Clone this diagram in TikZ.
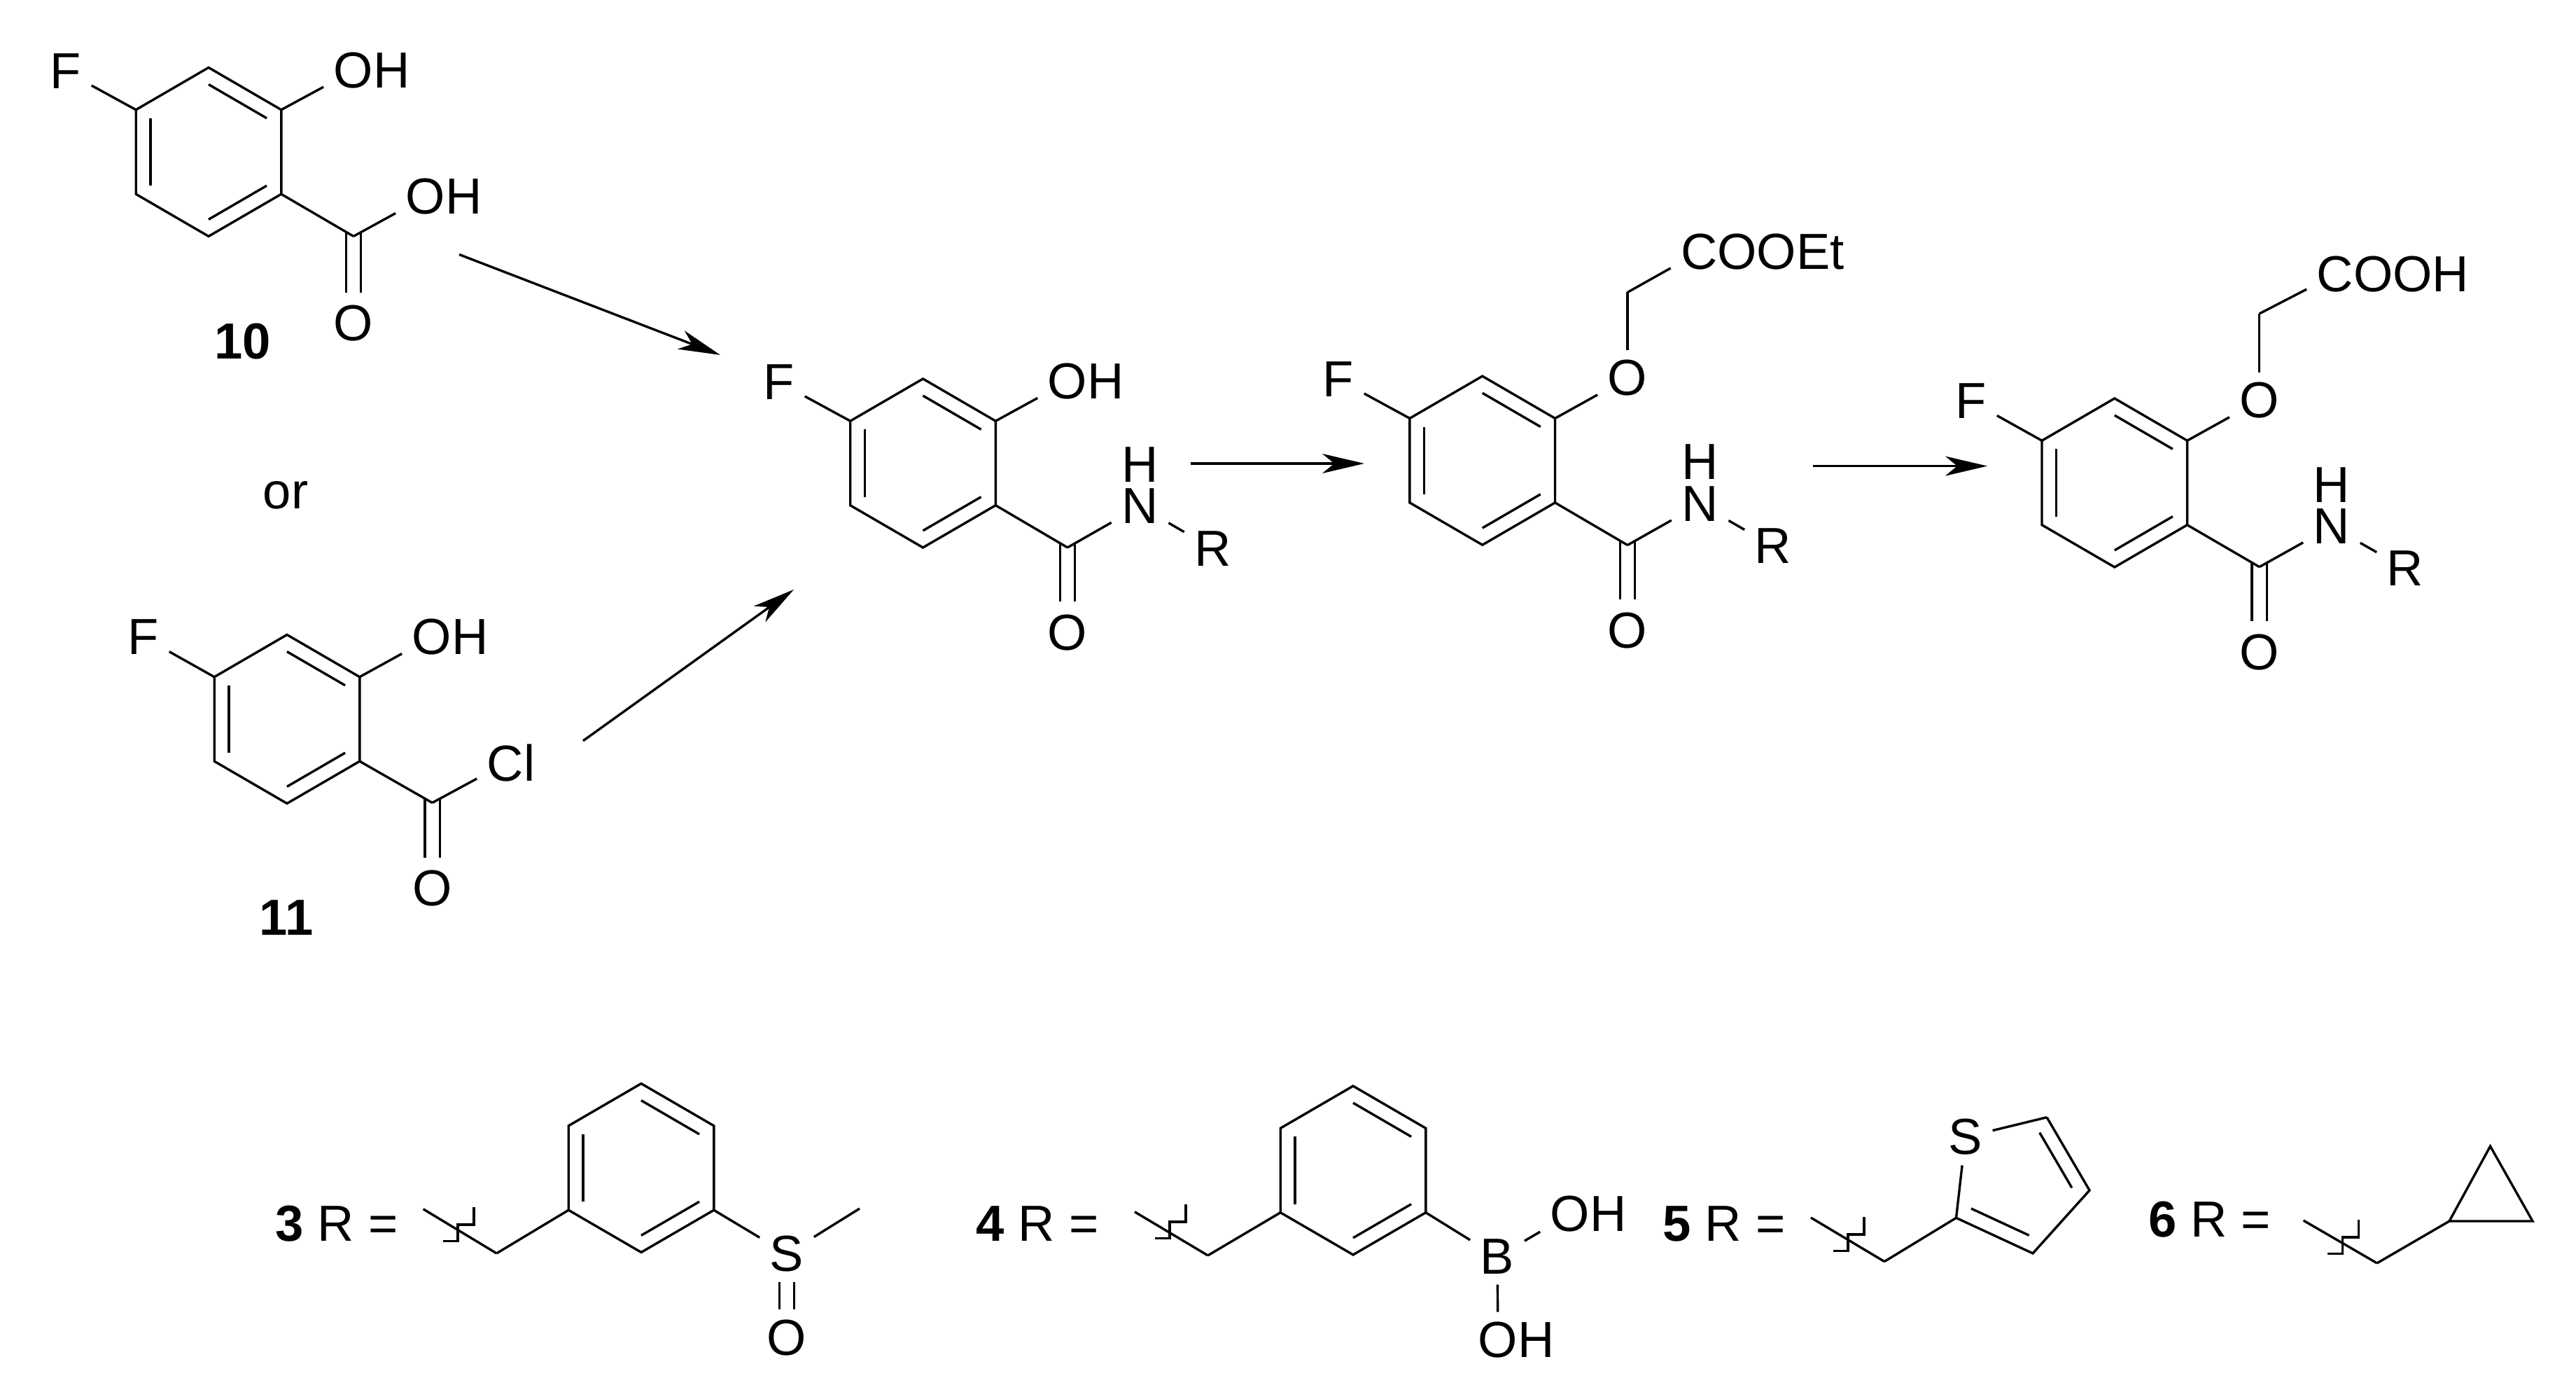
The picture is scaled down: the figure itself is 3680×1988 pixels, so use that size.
\documentclass[tikz,border=0pt]{standalone}
\usepackage{fontspec}
\setmainfont{Liberation Sans}
\usetikzlibrary{arrows.meta,calc}

\tikzset{
  atom/.style={inner sep=1.4mm},
  lab/.style={inner sep=0pt},
  bond/.style={line width=0.34mm},
  dbl/.style={bond,double,double distance=1.8mm},
  carbonyl/.style={dbl,shorten <=-0.6mm,shorten >=0.4mm},
  step mark/.style={line width=0.34mm},
  rxn/.style={->,line width=0.34mm}
}

\newcommand{\inner}[4]{\draw[bond] ($(#1)!#4!(#3)$) -- ($(#2)!#4!(#3)$);}
\newcommand{\hexring}[3]{
  \coordinate (#1m) at (#2,#3);
  \coordinate (#1a) at (#2,#3-120.5);
  \coordinate (#1b) at (#2+103.8,#3-60.2);
  \coordinate (#1c) at (#2+103.8,#3+60.2);
  \coordinate (#1d) at (#2,#3+120.5);
  \coordinate (#1e) at (#2-103.8,#3+60.2);
  \coordinate (#1f) at (#2-103.8,#3-60.2);
  \draw[bond] (#1a) -- (#1b) -- (#1c) -- (#1d) -- (#1e) -- (#1f) -- cycle;
  \inner{#1a}{#1b}{#1m}{0.2}
  \inner{#1c}{#1d}{#1m}{0.2}
  \inner{#1e}{#1f}{#1m}{0.2}
}
\newcommand{\cutmark}[2]{\draw[step mark] (#1,#2) -- ++(0,25) -- ++(-23,0) -- ++(0,23.5) -- ++(-21,0);}

\begin{document}
\begin{tikzpicture}[x=0.1mm,y=-0.1mm,>={Stealth[length=6mm,width=2.8mm,inset=1.7mm]},font=\fontsize{20.6}{24}\selectfont]
  \useasboundingbox (0,0) rectangle (3680,1988);

  \hexring{rA}{298}{217}
  \node[atom] (fA) at (94,102) {F};
  \node[atom] (ohA) at (505,101) {O\rlap{H}};
  \coordinate (cA) at (505,337.5);
  \node[atom] (ohcA) at (608,281) {O\rlap{H}};
  \node[atom] (oA) at (505,462) {O};
  \node[lab] (numA) at (347,488) {\textbf{10}};
  \path[bond] (cA) edge[carbonyl] (oA);
  \path[bond] (fA) edge (rAf)
  (rAb) edge (ohA)
  (rAc) edge (cA)
  (cA) edge (ohcA);

  \node[lab] (ortext) at (408,707) {or};

  \hexring{rB}{410}{1027}
  \node[atom] (fB) at (205,910) {F};
  \node[atom] (ohB) at (617,910) {O\rlap{H}};
  \coordinate (cB) at (617.5,1146.5);
  \node[atom] (clB) at (722,1090) {C\rlap{l}};
  \node[atom] (oB) at (617.5,1269) {O};
  \node[lab] (numB) at (409,1311) {\textbf{11}};
  \path[bond] (cB) edge[carbonyl] (oB);
  \path[bond] (fB) edge (rBf)
  (rBb) edge (ohB)
  (rBc) edge (cB)
  (cB) edge (clB);

  \hexring{rC}{1318.5}{661.5}
  \node[atom] (fC) at (1113,546) {F};
  \node[atom] (ohC) at (1525,545) {O\rlap{H}};
  \coordinate (cC) at (1525,782);
  \node[atom] (nC) at (1628.5,723) {N};
  \node[lab] (hC) at (1628.5,664) {H};
  \node[atom] (rgC) at (1732.5,783.5) {R};
  \node[atom] (oC) at (1525,903.5) {O};
  \path[bond] (cC) edge[carbonyl] (oC);
  \path[bond] (fC) edge (rCf)
  (rCb) edge (ohC)
  (rCc) edge (cC)
  (cC) edge (nC)
  (nC) edge (rgC);

  \hexring{rD}{2117.7}{657.7}
  \node[atom] (fD) at (1912,542) {F};
  \node[atom] (oxD) at (2325,540) {O};
  \coordinate (chD) at (2325,417.5);
  \node[atom] (esD) at (2427.5,360) {C\rlap{OOEt}};
  \coordinate (cD) at (2325,778.5);
  \node[atom] (nD) at (2428.6,720) {N};
  \node[lab] (hD) at (2428.6,660) {H};
  \node[atom] (rgD) at (2533,780) {R};
  \node[atom] (oD) at (2325,900.5) {O};
  \path[bond] (cD) edge[carbonyl] (oD);
  \path[bond] (fD) edge (rDf)
  (rDb) edge (oxD)
  (oxD) edge (chD)
  (chD) edge (esD)
  (rDc) edge (cD)
  (cD) edge (nD)
  (nD) edge (rgD);

  \hexring{rE}{3020.8}{689.5}
  \node[atom] (fE) at (2816,573) {F};
  \node[atom] (oxE) at (3227.7,572) {O};
  \coordinate (chE) at (3227.7,448);
  \node[atom] (acE) at (3336,392) {C\rlap{OOH}};
  \coordinate (cE) at (3227.7,809.7);
  \node[atom] (nE) at (3331,752) {N};
  \node[lab] (hE) at (3331,692.6) {H};
  \node[atom] (rgE) at (3436,812) {R};
  \node[atom] (oE) at (3227.7,931.4) {O};
  \path[bond] (cE) edge[carbonyl] (oE);
  \path[bond] (fE) edge (rEf)
  (rEb) edge (oxE)
  (oxE) edge (chE)
  (chE) edge (acE)
  (rEc) edge (cE)
  (cE) edge (nE)
  (nE) edge (rgE);

  \coordinate (a1s) at (656,363.5);
  \coordinate (a1e) at (1029,507);
  \coordinate (a2s) at (833,1058);
  \coordinate (a2e) at (1134,842);
  \coordinate (a3s) at (1700.6,662);
  \coordinate (a3e) at (1949,662);
  \coordinate (a4s) at (2590,665.6);
  \coordinate (a4e) at (2839,665.6);
  \path[rxn] (a1s) edge (a1e)
  (a2s) edge (a2e)
  (a3s) edge (a3e)
  (a4s) edge (a4e);

  \node[lab] (eqF) at (481,1748) {\textbf{3} R =};
  \hexring{rF}{916}{1668}
  \coordinate (endF) at (604.6,1726.7);
  \coordinate (chF) at (709.4,1790);
  \node[atom] (sF) at (1124,1790.7) {S};
  \coordinate (meF) at (1228,1726);
  \node[atom] (oF) at (1124,1910.7) {O};
  \path[bond] (sF) edge[dbl] (oF);
  \path[bond] (endF) edge (chF)
  (chF) edge (rFe)
  (rFc) edge (sF)
  (sF) edge (meF);
  \cutmark{677}{1724}

  \node[lab] (eqG) at (1482,1748) {\textbf{4} R =};
  \hexring{rG}{1933}{1671.5}
  \coordinate (endG) at (1621,1730.7);
  \coordinate (chG) at (1725.5,1793);
  \node[atom] (bG) at (2139,1795) {B};
  \node[atom] (ohG) at (2243,1734) {O\rlap{H}};
  \node[atom] (ohbG) at (2140,1914) {O\rlap{H}};
  \path[bond] (endG) edge (chG)
  (chG) edge (rGe)
  (rGc) edge (bG)
  (bG) edge (ohG)
  (bG) edge (ohbG);
  \cutmark{1694}{1720}

  \node[lab] (eqH) at (2463,1748) {\textbf{5} R =};
  \coordinate (endH) at (2587,1739);
  \coordinate (chH) at (2692,1801.7);
  \coordinate (tA) at (2794.5,1739.3);
  \coordinate (tB) at (2904,1790);
  \coordinate (tC) at (2985,1700);
  \coordinate (tD) at (2924,1595.7);
  \coordinate (tM) at (2882,1685);
  \node[atom] (sH) at (2807.7,1624) {S};
  \path[bond] (endH) edge (chH)
  (chH) edge (tA)
  (tA) edge (sH)
  (sH) edge (tD);
  \draw[bond] (tA) -- (tB) -- (tC) -- (tD);
  \inner{tA}{tB}{tM}{0.245}
  \inner{tC}{tD}{tM}{0.245}
  \cutmark{2663}{1738}

  \node[lab] (eqI) at (3156.5,1741.7) {\textbf{6} R =};
  \coordinate (endI) at (3290.6,1743);
  \coordinate (chI) at (3395.7,1804);
  \coordinate (pA) at (3499,1744);
  \coordinate (pB) at (3557.5,1637);
  \coordinate (pC) at (3618,1744);
  \path[bond] (endI) edge (chI)
  (chI) edge (pA);
  \draw[bond] (pA) -- (pB) -- (pC) -- cycle;
  \cutmark{3369.4}{1742}
\end{tikzpicture}
\end{document}
